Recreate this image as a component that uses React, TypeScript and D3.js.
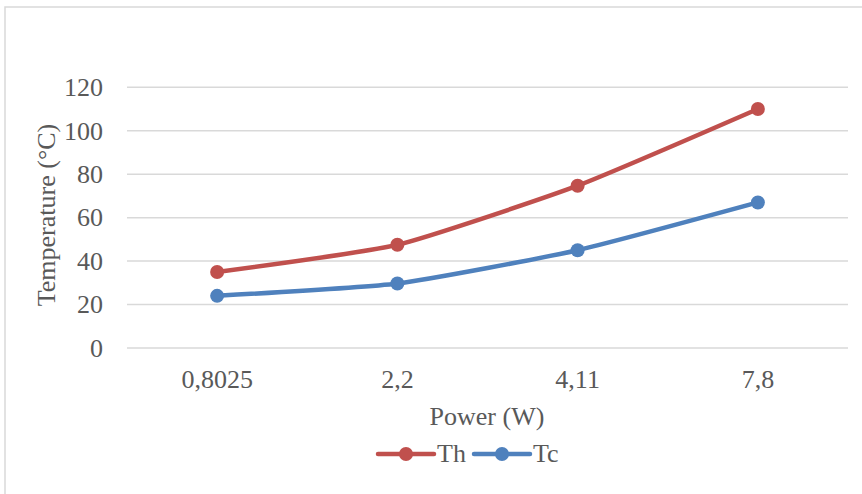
import React from "react";
import * as d3 from "d3";

const categories = ["0,8025", "2,2", "4,11", "7,8"];
const thValues = [35, 47.5, 74.7, 110];
const tcValues = [24, 29.7, 45, 67];
const yTicks = [0, 20, 40, 60, 80, 100, 120];
const seriesNames = ["Th", "Tc"];
const seriesColors = ["#C0504D", "#4F81BD"];

export default function App() {
  const W = 862, H = 494;
  const left = 127, right = 848, top = 87.3, bottom = 348;
  const x = d3.scaleBand<string>().domain(categories).range([left, right]);
  const y = d3.scaleLinear().domain([0, 120]).range([bottom, top]);
  const font = "'Liberation Serif', 'Times New Roman', serif";
  const textColor = "#595959";
  const fs = 26;
  const line = d3
    .line<number>()
    .x((_, i) => (x(categories[i]) as number) + x.bandwidth() / 2)
    .y((d) => y(d))
    .curve(d3.curveCardinal.tension(0.5));
  const series = [thValues, tcValues];
  const legendX = [378, 474];
  return (
    <svg
      width={W}
      height={H}
      style={{ position: "absolute", left: 0, top: 0, background: "#fff" }}
    >
      <rect x={5} y={7} width={W + 10} height={H + 10} fill="#fff" stroke="#D9D9D9" strokeWidth={1.5} />
      {yTicks.map((t) => (
        <g key={t}>
          <line x1={left} x2={right} y1={y(t)} y2={y(t)} stroke="#D9D9D9" strokeWidth={1.5} />
          <text
            x={103}
            y={y(t)}
            dy="0.34em"
            textAnchor="end"
            fontFamily={font}
            fontSize={fs}
            fill={textColor}
          >
            {t}
          </text>
        </g>
      ))}
      {categories.map((c) => (
        <text
          key={c}
          x={(x(c) as number) + x.bandwidth() / 2}
          y={388}
          textAnchor="middle"
          fontFamily={font}
          fontSize={fs}
          fill={textColor}
        >
          {c}
        </text>
      ))}
      <text
        transform={`translate(55, 215) rotate(-90)`}
        textAnchor="middle"
        fontFamily={font}
        fontSize={fs}
        fill={textColor}
      >
        Temperature (°C)
      </text>
      <text x={487} y={425} textAnchor="middle" fontFamily={font} fontSize={fs} fill={textColor}>
        Power (W)
      </text>
      {series.map((vals, si) => (
        <g key={si}>
          <path d={line(vals) || ""} fill="none" stroke={seriesColors[si]} strokeWidth={4.5} strokeLinecap="round" />
          {vals.map((v, i) => (
            <circle
              key={i}
              cx={(x(categories[i]) as number) + x.bandwidth() / 2}
              cy={y(v)}
              r={7}
              fill={seriesColors[si]}
            />
          ))}
        </g>
      ))}
      {seriesNames.map((n, si) => (
        <g key={n}>
          <line
            x1={legendX[si]}
            x2={legendX[si] + 56}
            y1={454}
            y2={454}
            stroke={seriesColors[si]}
            strokeWidth={4.5}
            strokeLinecap="round"
          />
          <circle cx={legendX[si] + 28} cy={454} r={7} fill={seriesColors[si]} />
          <text x={legendX[si] + 59} y={462} fontFamily={font} fontSize={fs} fill={textColor}>
            {n}
          </text>
        </g>
      ))}
    </svg>
  );
}
